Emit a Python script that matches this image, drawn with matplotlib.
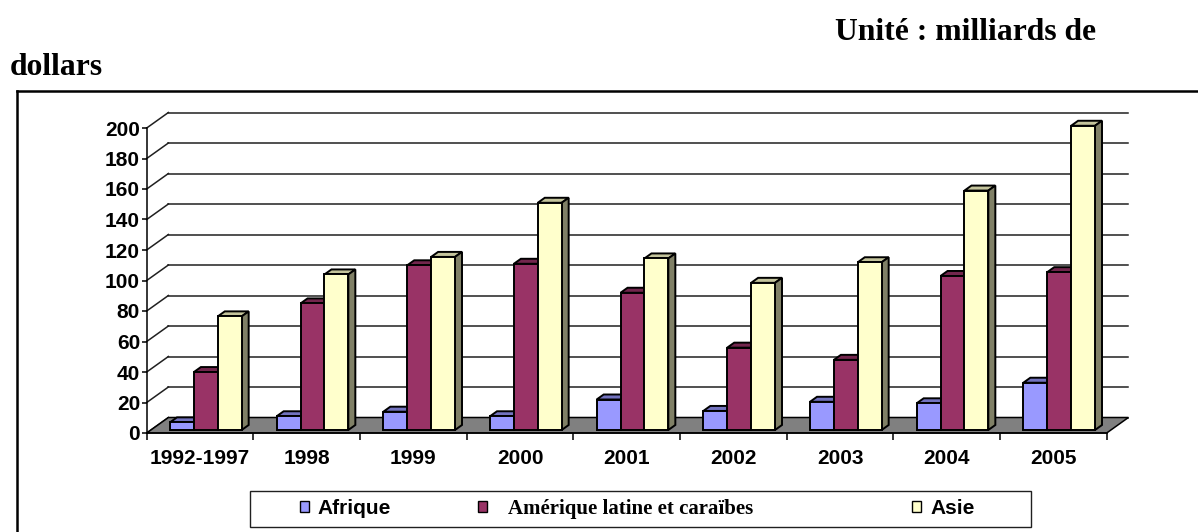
import numpy as np
import matplotlib
matplotlib.use("Agg")
import matplotlib.pyplot as plt
from matplotlib.patches import Polygon, Rectangle, Patch
from matplotlib.lines import Line2D

# data (milliards de dollars)
annees = ["1992-1997", "1998", "1999", "2000", "2001", "2002", "2003", "2004", "2005"]
afrique = [5, 9, 12, 9, 20, 12.5, 18.5, 17.5, 31]
amerique = [38, 83, 108, 109, 90, 54, 46, 101, 103.5]
asie = [74.5, 102, 113.5, 149, 112.5, 96.5, 110, 157, 199.5]
series_noms = ["Afrique", "Amérique latine et caraïbes", "Asie"]
y_ticks = list(range(0, 201, 20))

W, H = 1198, 532
fig = plt.figure(figsize=(W / 100, H / 100), dpi=100)

def fx(px):
    return px / W

def fy(py):
    return 1 - py / H

sans = "Liberation Sans"
serif = "Liberation Serif"

# front plane of the pseudo 3D chart
ax = fig.add_axes([fx(146.7), fy(433), (1106.7 - 146.7) / W, (433 - 128) / H])
ax.set_xlim(0, len(annees))
ax.set_ylim(0, 200)
ax.patch.set_visible(False)
for s in ["top", "right"]:
    ax.spines[s].set_visible(False)
ax.spines["left"].set_linewidth(1.1)
ax.spines["bottom"].set_linewidth(1.1)

# depth offsets (data units)
px_x = (1106.7 - 146.7) / len(annees)
px_y = 305 / 200.0
wall_dx, wall_dy = 21.7 / px_x, 15.5 / px_y
front_dx, front_dy = 4.2 / px_x, 3.0 / px_y
bar_dx, bar_dy = 7.0 / px_x, 5.0 / px_y

n = len(annees)
grid_col = "#202020"
# back wall gridlines + left wall diagonals
for v in y_ticks:
    ax.plot([wall_dx, n + wall_dx], [v + wall_dy, v + wall_dy], color=grid_col,
            lw=1.1, clip_on=False, zorder=1)
    ax.plot([0, wall_dx], [v, v + wall_dy], color=grid_col, lw=1.1,
            clip_on=False, zorder=1)

# floor
floor = Polygon([(0, 0), (n, 0), (n + wall_dx, wall_dy), (wall_dx, wall_dy)],
                closed=True, facecolor="#808080", edgecolor="black", lw=1.1,
                clip_on=False, zorder=1.5)
ax.add_patch(floor)

front_cols = ["#9999ff", "#993366", "#ffffcc"]
top_cols = ["#7373bf", "#73264d", "#c4c49c"]
side_cols = ["#5c5c99", "#5c1f3d", "#808066"]

bw = 0.224
x = np.arange(n)
z = 3
for i in range(n):
    vals = [afrique[i], amerique[i], asie[i]]
    for j, v in enumerate(vals):
        x0 = i + 0.515 + (j - 1.5) * bw + front_dx
        y0 = front_dy
        x1 = x0 + bw
        y1 = y0 + v
        ax.add_patch(Polygon([(x0, y1), (x1, y1), (x1 + bar_dx, y1 + bar_dy),
                              (x0 + bar_dx, y1 + bar_dy)], closed=True,
                             facecolor=top_cols[j], edgecolor="black", lw=1.4,
                             clip_on=False, zorder=z))
        ax.add_patch(Polygon([(x1, y0), (x1 + bar_dx, y0 + bar_dy),
                              (x1 + bar_dx, y1 + bar_dy), (x1, y1)], closed=True,
                             facecolor=side_cols[j], edgecolor="black", lw=1.4,
                             clip_on=False, zorder=z))
        ax.bar(x0, v, width=bw, bottom=y0, align="edge", color=front_cols[j],
               edgecolor="black", linewidth=1.4, zorder=z + 0.5, clip_on=False)
        z += 1

# axes ticks
ax.set_yticks(y_ticks)
ax.set_yticklabels([str(t) for t in y_ticks], fontfamily=sans,
                   fontweight="bold", fontsize=15)
ax.tick_params(axis="y", length=3.3, width=1.1, pad=1.5)
ax.set_xticks(np.arange(n + 1))
ax.set_xticklabels([])
ax.tick_params(axis="x", which="major", length=5, width=1.1)
ax.set_xticks(x + 0.5, minor=True)
ax.set_xticklabels(annees, minor=True, fontfamily=sans, fontweight="bold",
                   fontsize=15)
ax.tick_params(axis="x", which="minor", length=0, pad=11.5)

# titles
fig.text(fx(835), fy(40), "Unité : milliards de", fontfamily=serif,
         fontweight="bold", fontsize=22.8, va="baseline", ha="left")
fig.text(fx(10), fy(75), "dollars", fontfamily=serif, fontweight="bold",
         fontsize=22.8, va="baseline", ha="left")

# outer chart frame
fig.add_artist(Line2D([fx(17), fx(17)], [fy(91), 0], color="black", lw=1.8))
fig.add_artist(Line2D([fx(17), 1], [fy(91), fy(91)], color="black", lw=1.8))

# legend
fig.add_artist(Rectangle((fx(250), fy(526.7)), fx(1031) - fx(250),
                         fy(490.7) - fy(526.7), transform=fig.transFigure,
                         facecolor="white", edgecolor="#202020", lw=1.0))
leg_x = [300, 478, 912]
leg_pad = [0.42, 1.0, 0.48]
leg_font = [sans, serif, sans]
for j in range(3):
    h = Patch(facecolor=front_cols[j], edgecolor="black", lw=1.0)
    lg = fig.legend([h], [series_noms[j]], loc="center left",
                    bbox_to_anchor=(fx(leg_x[j]), fy(508.7)), frameon=False,
                    borderpad=0, borderaxespad=0, handlelength=0.42,
                    handleheight=0.42, handletextpad=leg_pad[j],
                    prop={"family": leg_font[j], "weight": "bold", "size": 15})

fig.savefig("out.png", dpi=100)
